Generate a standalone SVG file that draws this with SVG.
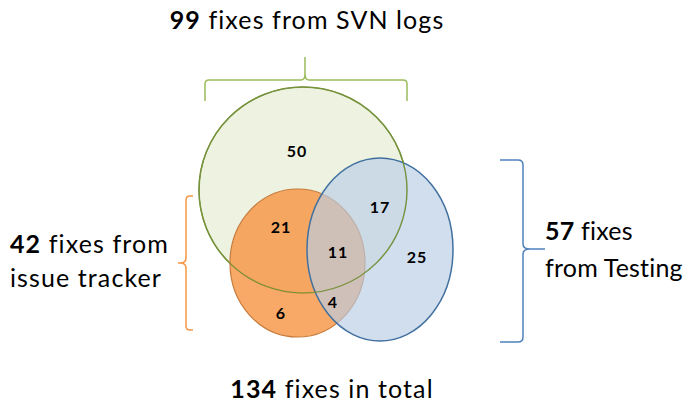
<svg xmlns="http://www.w3.org/2000/svg" width="689" height="406" viewBox="0 0 689 406">
<style>
.lbl{font-family:Lato,"Open Sans","Liberation Sans",sans-serif;font-size:25px;letter-spacing:1.1px;fill:#000}
.t{letter-spacing:0.2px}
.b{font-weight:bold}
.num{font-family:Lato,"Open Sans","Liberation Sans",sans-serif;font-size:16px;letter-spacing:1px;font-weight:bold;fill:#000;text-anchor:middle}
.brace{fill:none;stroke-width:1.5}
</style>
<rect width="689" height="406" fill="#fff"/>
<g id="svn">
<ellipse cx="303" cy="190" rx="104" ry="103" fill="#ebf1de" fill-opacity="0.9" stroke="#77933c" stroke-width="1.5"/>
</g>
<g id="issue">
<ellipse cx="297.5" cy="263" rx="67.5" ry="74" fill="#f79646" fill-opacity="0.82" stroke="#c77a3a" stroke-width="1.2"/>
</g>
<g id="testing">
<ellipse cx="380" cy="249.5" rx="73" ry="91.5" fill="#b9cde5" fill-opacity="0.65" stroke="#41709f" stroke-width="1.5"/>
</g>
<g id="svn-outline">
<ellipse cx="303" cy="190" rx="104" ry="103" fill="none" stroke="#77933c" stroke-width="1.2"/>
</g>
<g id="counts">
<text class="num" x="297" y="157">50</text>
<text class="num" x="380" y="213">17</text>
<text class="num" x="281" y="233">21</text>
<text class="num" x="338" y="258">11</text>
<text class="num" x="417" y="263">25</text>
<text class="num" x="281" y="319">6</text>
<text class="num" x="333" y="308">4</text>
</g>
<g id="connectors">
<path class="brace" stroke="#9bbb59" d="M205,101 V84 Q205,80 209,80 H301 Q305,80 305,74 V57 M305,74 Q305,80 309,80 H403 Q407,80 407,84 V101"/>
<path class="brace" stroke="#f79646" d="M193,196 H190 Q186,196 186,200 V258 Q186,263 180,263 H178 M180,263 Q186,263 186,268 V326 Q186,330 190,330 H193"/>
<path class="brace" stroke="#4f81bd" d="M500,160 H518 Q523,160 523,165 V244 Q523,249 530,249 H545 M530,249 Q523,249 523,254 V337 Q523,342 518,342 H500"/>
</g>
<g id="labels">
<text class="lbl" x="307" y="29" text-anchor="middle"><tspan class="b">99</tspan> fixes from SVN logs</text>
<text class="lbl" x="10" y="253"><tspan class="b">42</tspan> fixes from</text>
<text class="lbl" x="10" y="287">issue tracker</text>
<text class="lbl t" x="545" y="240"><tspan class="b">57</tspan> fixes</text>
<text class="lbl t" x="545" y="277">from Testing</text>
<text class="lbl" x="332" y="398" text-anchor="middle"><tspan class="b">134</tspan> fixes in total</text>
</g>
</svg>
